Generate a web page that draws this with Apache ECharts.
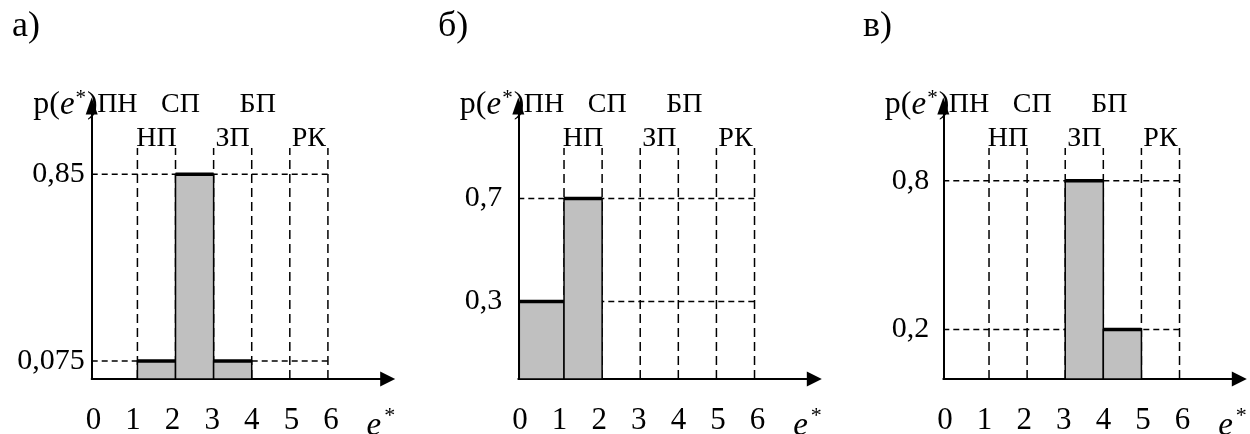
<!DOCTYPE html>
<html><head><meta charset="utf-8">
<script src="https://cdn.jsdelivr.net/npm/echarts@6/dist/echarts.min.js"></script>
<style>html,body{margin:0;padding:0;background:#fff}#c{width:1250px;height:434px}</style>
</head><body><div id="c"></div>
<script>
// ---------- data ----------
const panelTitles = ['а)', 'б)', 'в)'];
const xTickValues = [0, 1, 2, 3, 4, 5, 6];
const zoneBoundaries = [1, 2, 3, 4, 5, 6];          // e* values of the dashed verticals
const zoneTopRow = ['ПН', 'СП', 'БП'];               // zones 0-1, 2-3, 4-5
const zoneTopCenters = [0.5, 2.5, 4.5];
const zoneBottomRow = ['НП', 'ЗП', 'РК'];            // zones 1-2, 3-4, 5-6
const zoneBottomCenters = [1.5, 3.5, 5.5];
// bars: [from e*, to e*, p(e*)]
const barsA = [[1, 2, 0.075], [2, 3, 0.85], [3, 4, 0.075]];
const barsB = [[0, 1, 0.3], [1, 2, 0.7]];
const barsC = [[3, 4, 0.8], [4, 5, 0.2]];
const yLabelsA = [0.075, 0.85];
const yLabelsB = [0.3, 0.7];
const yLabelsC = [0.2, 0.8];

// ---------- layout / style ----------
const FONT = "'Liberation Serif','Times New Roman',serif";
const panels = [
  { title: panelTitles[0], bars: barsA, yl: yLabelsA, left: 91.7, yMax: 1.133, yMargin: 7,  titleLeft: 7 },
  { title: panelTitles[1], bars: barsB, yl: yLabelsB, left: 518.3, yMax: 1.058, yMargin: 16, titleLeft: 433 },
  { title: panelTitles[2], bars: barsC, yl: yLabelsC, left: 943.3, yMax: 1.101, yMargin: 14, titleLeft: 858 }
];
const topRowDx = [-1, -14, -13];
const GRID_TOP = 106, GRID_BOTTOM = 55, GRID_W = 296;
const XMIN = -0.2, XMAX = XMIN + GRID_W / 38.1;
const LMIN = -0.043, LMAX = LMIN + GRID_W / 39.6;
const E_NAME_POS = 7.26;

const textBase = { fontFamily: FONT, fill: '#000' };
const fmtComma = v => String(v).replace('.', ',');

const option = { animation: false, backgroundColor: '#fff', title: [], grid: [], xAxis: [], yAxis: [], series: [] };

panels.forEach((p, i) => {
  option.title.push({ text: p.title, left: p.titleLeft, top: 4,
    textStyle: { fontSize: 36, fontWeight: 'normal', fontFamily: FONT, color: '#000' } });
  option.grid.push({ left: p.left, top: GRID_TOP, bottom: GRID_BOTTOM, width: GRID_W,
    containLabel: false, outerBoundsMode: 'none' });
  // primary x axis (marks)
  option.xAxis.push({ type: 'value', gridIndex: i, min: XMIN, max: XMAX, position: 'bottom',
    axisLine: { show: true, onZero: false, symbol: ['none', 'triangle'], symbolSize: [15, 15],
      lineStyle: { color: '#000', width: 2 } },
    axisTick: { show: false }, axisLabel: { show: false }, splitLine: { show: false } });
  // secondary x axis (tick labels only)
  option.xAxis.push({ type: 'value', gridIndex: i, min: LMIN, max: LMAX, position: 'bottom',
    axisLine: { show: false }, axisTick: { show: false }, splitLine: { show: false },
    axisLabel: { customValues: xTickValues.concat([E_NAME_POS]), margin: 26, color: '#000',
      fontFamily: FONT, fontSize: 31,
      formatter: v => (v === E_NAME_POS ? '{i|e}{s|*}' : String(v)),
      rich: { i: { fontFamily: FONT, fontStyle: 'italic', fontSize: 33, color: '#000' },
              s: { fontFamily: FONT, fontSize: 22, color: '#000', verticalAlign: 'top', padding: [0, 0, 20, 3] } } } });
  option.yAxis.push({ type: 'value', gridIndex: i, min: 0, max: p.yMax,
    axisLine: { show: true, onZero: false, symbol: ['none', 'triangle'], symbolSize: [12, 17],
      lineStyle: { color: '#000', width: 2 } },
    axisTick: { show: false }, splitLine: { show: false },
    axisLabel: { customValues: p.yl, formatter: fmtComma, margin: p.yMargin, color: '#000',
      fontFamily: FONT, fontSize: 30 } });

  const xi = i * 2, yi = i;
  // vertical dashed zone lines
  option.series.push({ type: 'custom', xAxisIndex: xi, yAxisIndex: yi, z: 1, silent: true,
    data: zoneBoundaries.map(b => [b, 0]),
    renderItem: (params, api) => {
      const pt = api.coord([api.value(0), 0]);
      return { type: 'line', shape: { x1: pt[0], y1: pt[1], x2: pt[0], y2: params.coordSys.y + 42 },
        style: { stroke: '#000', lineWidth: 1.5, lineDash: [9, 5] } };
    } });
  // horizontal dashed level lines
  option.series.push({ type: 'custom', xAxisIndex: xi, yAxisIndex: yi, z: 1, silent: true,
    data: p.yl.map(v => [zoneBoundaries[zoneBoundaries.length - 1], v]),
    renderItem: (params, api) => {
      const pt = api.coord([api.value(0), api.value(1)]);
      return { type: 'line', shape: { x1: params.coordSys.x, y1: pt[1], x2: pt[0], y2: pt[1] },
        style: { stroke: '#000', lineWidth: 1.5, lineDash: [6, 4] } };
    } });
  // bars
  option.series.push({ type: 'custom', xAxisIndex: xi, yAxisIndex: yi, z: 3, silent: true,
    encode: { x: [0, 1], y: 2 }, data: p.bars,
    renderItem: (params, api) => {
      const s = api.value(0), e = api.value(1), v = api.value(2);
      const p0 = api.coord([s, 0]), p1 = api.coord([e, v]);
      const x0 = s <= 0 ? params.coordSys.x + 1 : p0[0];
      return { type: 'group', children: [
        { type: 'rect', shape: { x: x0, y: p1[1], width: p1[0] - x0, height: p0[1] - p1[1] },
          style: { fill: '#c0c0c0', stroke: '#000', lineWidth: 1.5 } },
        { type: 'line', shape: { x1: x0, y1: p1[1], x2: p1[0], y2: p1[1] },
          style: { stroke: '#000', lineWidth: 3.5 } } ] };
    } });
  // zone name labels
  option.series.push({ type: 'custom', xAxisIndex: xi, yAxisIndex: yi, z: 4, silent: true,
    data: zoneTopCenters.map((c, k) => [c, 0, k, 0]).concat(zoneBottomCenters.map((c, k) => [c, 0, k, 1])),
    renderItem: (params, api) => {
      const k = api.value(2), row = api.value(3);
      const pt = api.coord([api.value(0), 0]);
      const txt = row === 0 ? zoneTopRow[k] : zoneBottomRow[k];
      const x = pt[0] + (row === 0 ? topRowDx[k] : 0);
      const y = params.coordSys.y + (row === 0 ? -1.5 : 32.5);
      return { type: 'text', x: x, y: y,
        style: Object.assign({ text: txt, fontSize: 28, align: 'center', verticalAlign: 'middle' }, textBase) };
    } });
  // y axis name p(e*)
  option.series.push({ type: 'custom', xAxisIndex: xi, yAxisIndex: yi, z: 2, silent: true,
    data: [[0, 0]],
    renderItem: (params) => ({ type: 'text', x: params.coordSys.x + 6, y: params.coordSys.y - 1,
      style: { text: '{n|p(}{i|e}{s|*}{n|)}', align: 'right', verticalAlign: 'middle',
        rich: { n: { fontFamily: FONT, fontSize: 32, fill: '#000' },
                i: { fontFamily: FONT, fontStyle: 'italic', fontSize: 33, fill: '#000' },
                s: { fontFamily: FONT, fontSize: 21, fill: '#000', verticalAlign: 'top', padding: [0, 1, 14, 1] } } } }) });
});

const chart = echarts.init(document.getElementById('c'), null, { renderer: 'canvas' });
chart.setOption(option);
</script>
</body></html>
